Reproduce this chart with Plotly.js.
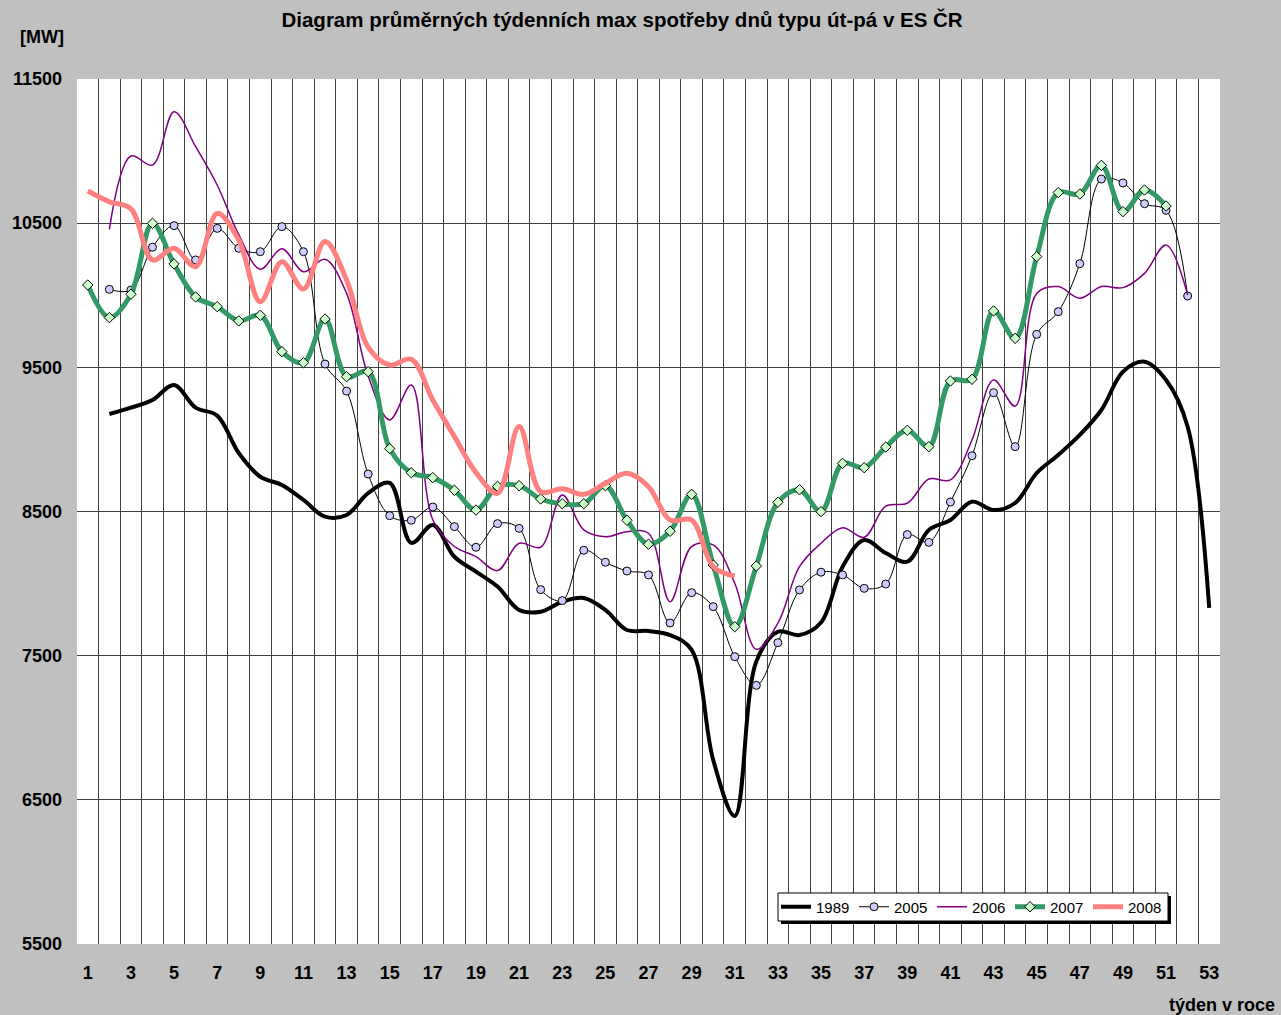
<!DOCTYPE html>
<html>
<head>
<meta charset="utf-8">
<script src="https://cdn.plot.ly/plotly-3.0.1.min.js"></script>
<style>
  html, body { margin: 0; padding: 0; background: #c0c0c0; }
  #chart { width: 1281px; height: 1015px; }
</style>
</head>
<body>
<div id="chart"></div>
<script>
// Weeks
const weeks = Array.from({length: 53}, (_, i) => i + 1);

// 1989: weeks 2..53
const weeks1989 = weeks.slice(1);
const v1989 = [9176, 9220, 9273, 9378, 9220, 9165, 8906, 8741, 8684, 8580, 8464, 8476, 8628, 8698, 8282, 8407, 8186,
  8083, 7979, 7817, 7805, 7874, 7900, 7817, 7678, 7671, 7643, 7540, 6777, 6388, 7460, 7666, 7643, 7730, 8117, 8302,
  8212, 8152, 8372, 8441, 8568, 8510, 8559, 8767, 8892, 9031, 9204, 9470, 9539, 9412, 9088, 7831];

// 2005: weeks 2..52
const weeks2005 = weeks.slice(1, 52);
const v2005 = [10041, 10036, 10333, 10483, 10245, 10464, 10326, 10302, 10476, 10302, 9523, 9335, 8760, 8471, 8439,
  8531, 8395, 8252, 8416, 8383, 7958, 7882, 8231, 8148, 8087, 8060, 7727, 7937, 7840, 7493, 7294, 7590, 7956, 8079,
  8060, 7967, 7997, 8340, 8286, 8566, 8887, 9324, 8950, 9729, 9886, 10219, 10806, 10779, 10635, 10589, 9995];

// 2006: weeks 2..52
const weeks2006 = weeks.slice(1, 52);
const v2006 = [10457, 10966, 10903, 11273, 11031, 10765, 10420, 10180, 10323, 10163, 10249, 10013, 9440, 9135, 9378,
  8441, 8257, 8187, 8090, 8280, 8252, 8615, 8372, 8325, 8360, 8349, 7874, 8257, 8268, 8002, 7544, 7725, 8117, 8280,
  8388, 8321, 8538, 8557, 8725, 8719, 8996, 9412, 9232, 10013, 10060, 9979, 10060, 10053, 10152, 10349, 10002];

// 2007: weeks 1..51
const weeks2007 = weeks.slice(0, 51);
const v2007 = [10071, 9845, 10007, 10499, 10217, 9988, 9921, 9822, 9861, 9609, 9532, 9835, 9435, 9470, 8936, 8769,
  8735, 8647, 8510, 8674, 8679, 8587, 8554, 8554, 8679, 8439, 8273, 8363, 8619, 8129, 7701, 8122, 8564, 8651, 8499,
  8834, 8804, 8947, 9063, 8950, 9405, 9417, 9891, 9701, 10268, 10712, 10702, 10901, 10580, 10730, 10619];

// 2008: weeks 1..31
const weeks2008 = weeks.slice(0, 31);
const v2008 = [10723, 10649, 10600, 10245, 10326, 10198, 10568, 10383, 9955, 10233, 10043, 10372, 10106, 9640, 9516,
  9556, 9273, 9020, 8770, 8626, 9089, 8638, 8658, 8619, 8696, 8765, 8672, 8441, 8441, 8117, 8053];

const xTickVals = weeks.filter(w => w % 2 === 1);
const yTickVals = [5500, 6500, 7500, 8500, 9500, 10500, 11500];
const yTickText = ['5500', '6500', '7500', '8500', '9500', '10500', '11500'];

const traces = [
  { name: '1989', x: weeks1989, y: v1989, type: 'scatter', mode: 'lines',
    line: { color: '#000000', width: 4, shape: 'spline', smoothing: 1 } },
  { name: '2005', x: weeks2005, y: v2005, type: 'scatter', mode: 'lines+markers',
    line: { color: '#000000', width: 1, shape: 'spline', smoothing: 1 },
    marker: { symbol: 'circle', size: 8, color: '#ccccff', line: { color: '#000000', width: 1 } } },
  { name: '2006', x: weeks2006, y: v2006, type: 'scatter', mode: 'lines',
    line: { color: '#800080', width: 1.5, shape: 'spline', smoothing: 1 } },
  { name: '2007', x: weeks2007, y: v2007, type: 'scatter', mode: 'lines+markers',
    line: { color: '#339966', width: 5, shape: 'spline', smoothing: 1 },
    marker: { symbol: 'diamond', size: 8, color: '#ccffcc', line: { color: '#000000', width: 1 } } },
  { name: '2008', x: weeks2008, y: v2008, type: 'scatter', mode: 'lines',
    line: { color: '#ff8080', width: 5, shape: 'spline', smoothing: 1 } }
];

const FAM = 'Arial, Liberation Sans, sans-serif';
const boldFont = { family: FAM, size: 18, color: '#000000', weight: 'bold' };

// plot area in pixels: x 77..1220, y 79..944
const PL = 77, PR = 1220, PT = 79, PB = 944;
const px = v => (v - PL) / (PR - PL);
const py = v => (PB - v) / (PB - PT);

const layout = {
  width: 1281, height: 1015,
  paper_bgcolor: '#c0c0c0',
  plot_bgcolor: '#ffffff',
  margin: { l: PL, r: 1281 - PR, t: PT, b: 1015 - PB, pad: 0, autoexpand: false },
  showlegend: true,
  title: {
    text: 'Diagram průměrných týdenních max spotřeby dnů typu út-pá v ES ČR',
    font: { family: FAM, size: 20.5, color: '#000000', weight: 'bold' },
    x: 0.4856, xanchor: 'center', xref: 'container',
    y: 0.980, yanchor: 'middle', yref: 'container'
  },
  xaxis: {
    range: [0.5, 53.5],
    tickmode: 'array', tickvals: xTickVals,
    showgrid: false, zeroline: false, showline: false,
    ticks: '', ticklabelstandoff: 16,
    tickfont: boldFont,
    minor: { tick0: 1.5, dtick: 1, showgrid: true, gridcolor: '#404040', gridwidth: 1, ticks: '' },
    fixedrange: true
  },
  yaxis: {
    range: [5500, 11500],
    tickmode: 'array', tickvals: yTickVals, ticktext: yTickText,
    showgrid: true, gridcolor: '#404040', gridwidth: 1,
    zeroline: false, showline: false,
    ticks: '', ticklabelstandoff: 14,
    tickfont: boldFont,
    fixedrange: true
  },
  legend: {
    orientation: 'h',
    x: px(776), xanchor: 'left',
    y: py(907), yanchor: 'middle',
    bgcolor: 'rgba(0,0,0,0)', borderwidth: 0,
    font: { family: FAM, size: 15, color: '#000000' },
    entrywidth: 33, entrywidthmode: 'pixels',
    itemwidth: 30,
    traceorder: 'normal'
  },
  shapes: [
    // legend shadow and frame
    { type: 'rect', xref: 'paper', yref: 'paper', layer: 'above',
      x0: px(781), x1: px(1171), y0: py(924), y1: py(896),
      fillcolor: '#000000', line: { width: 0 } },
    { type: 'rect', xref: 'paper', yref: 'paper', layer: 'above',
      x0: px(778), x1: px(1168), y0: py(921), y1: py(893),
      fillcolor: '#ffffff', line: { color: '#000000', width: 1 } }
  ],
  annotations: [
    { text: '[MW]', xref: 'paper', yref: 'paper', x: px(42), y: py(37), xanchor: 'center', yanchor: 'middle',
      showarrow: false, font: boldFont },
    { text: 'týden v roce', xref: 'paper', yref: 'paper', x: px(1277), y: py(1005), xanchor: 'right', yanchor: 'middle',
      showarrow: false, font: boldFont }
  ]
};

Plotly.newPlot('chart', traces, layout, { displayModeBar: false, staticPlot: true });
</script>
</body>
</html>
